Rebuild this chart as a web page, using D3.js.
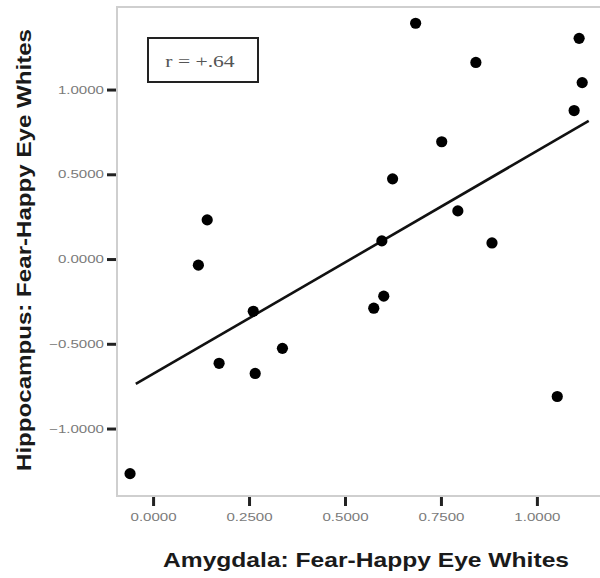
<!DOCTYPE html>
<html>
<head>
<meta charset="utf-8">
<script src="https://cdn.jsdelivr.net/npm/d3@7"></script>
<style>
  body { margin: 0; background: #fff; }
  svg { display: block; }
</style>
</head>
<body>
<div id="chart"></div>
<script>
// data
var amygdala = [-0.060, 0.118, 0.141, 0.172, 0.261, 0.266, 0.337, 0.575, 0.601, 0.596,
                0.624, 0.684, 0.752, 0.794, 0.841, 0.883, 1.053, 1.097, 1.110, 1.118];
var hippocampus = [-1.266, -0.036, 0.231, -0.615, -0.308, -0.675, -0.527, -0.290, -0.219, 0.107,
                   0.473, 1.391, 0.692, 0.284, 1.160, 0.095, -0.811, 0.876, 1.302, 1.041];
var fitX = [-0.045, 1.135];
var fitY = [-0.737, 0.815];
var xTicks = [0, 0.25, 0.5, 0.75, 1.0];
var yTicks = [-1.0, -0.5, 0, 0.5, 1.0];
var rLabel = "r = +.64";
var xTitle = "Amygdala: Fear-Happy Eye Whites";
var yTitle = "Hippocampus: Fear-Happy Eye Whites";

var margin = {top: 7, right: 0, bottom: 82, left: 117},
    width = 601 - margin.left,
    height = 578 - margin.top - margin.bottom;

var x = d3.scaleLinear().domain([-0.094, 1.167]).range([0, width]);
var y = d3.scaleLinear().domain([-1.398, 1.487]).range([height, 0]);

var svg = d3.select("#chart").append("svg")
    .attr("width", 600)
    .attr("height", 578);

var g = svg.append("g")
    .attr("transform", "translate(" + margin.left + "," + margin.top + ")");

// frame
g.append("rect")
    .attr("width", width)
    .attr("height", height)
    .attr("fill", "none")
    .attr("stroke", "#cfcfcf")
    .attr("stroke-width", 2);

// stretch tick text a bit, the original looks wide
function widen(sel, k) {
  sel.each(function() {
    var len = this.getComputedTextLength();
    d3.select(this).attr("textLength", len * k).attr("lengthAdjust", "spacingAndGlyphs");
  });
}

// y axis
var yAxis = g.append("g")
    .attr("transform", "translate(-1,0)")
    .call(d3.axisLeft(y).tickValues(yTicks).tickSize(9).tickPadding(3).tickFormat(d3.format(".4f")));
yAxis.select(".domain").remove();
yAxis.selectAll("line").attr("stroke", "#222").attr("stroke-width", 3);
yAxis.selectAll("text")
    .style("font-family", "Arial, 'Liberation Sans', sans-serif")
    .style("font-size", "11px")
    .attr("fill", "#7a7a7a")
    .call(widen, 1.37);

// x axis
var xAxis = g.append("g")
    .attr("transform", "translate(0," + (height + 1) + ")")
    .call(d3.axisBottom(x).tickValues(xTicks).tickSize(9).tickPadding(7).tickFormat(d3.format(".4f")));
xAxis.select(".domain").remove();
xAxis.selectAll("line").attr("stroke", "#222").attr("stroke-width", 3);
xAxis.selectAll("text")
    .style("font-family", "Arial, 'Liberation Sans', sans-serif")
    .style("font-size", "11px")
    .attr("fill", "#7a7a7a")
    .call(widen, 1.37);

// fit line
var line = d3.line()
    .x(function(d) { return x(d[0]); })
    .y(function(d) { return y(d[1]); });

g.append("path")
    .datum(d3.zip(fitX, fitY))
    .attr("d", line)
    .attr("fill", "none")
    .attr("stroke", "#111")
    .attr("stroke-width", 2.6);

// points
g.selectAll(".dot")
    .data(d3.zip(amygdala, hippocampus))
  .enter().append("circle")
    .attr("class", "dot")
    .attr("cx", function(d) { return x(d[0]); })
    .attr("cy", function(d) { return y(d[1]); })
    .attr("r", 5.6)
    .attr("fill", "#000");

// r box
svg.append("rect")
    .attr("x", 148)
    .attr("y", 38)
    .attr("width", 110)
    .attr("height", 44)
    .attr("fill", "#fff")
    .attr("stroke", "#222")
    .attr("stroke-width", 2);

svg.append("text")
    .attr("x", 200)
    .attr("y", 67)
    .attr("text-anchor", "middle")
    .style("font-family", "'Liberation Serif', 'Times New Roman', serif")
    .style("font-size", "16px")
    .attr("fill", "#555")
    .text(rLabel)
    .call(widen, 1.35);

// axis titles
svg.append("text")
    .attr("x", 366)
    .attr("y", 567)
    .attr("text-anchor", "middle")
    .style("font-family", "Arial, 'Liberation Sans', sans-serif")
    .style("font-size", "21px")
    .style("font-weight", "bold")
    .attr("fill", "#1a1a1a")
    .attr("textLength", 406)
    .attr("lengthAdjust", "spacingAndGlyphs")
    .text(xTitle);

svg.append("text")
    .attr("transform", "translate(31,250) rotate(-90)")
    .attr("text-anchor", "middle")
    .style("font-family", "Arial, 'Liberation Sans', sans-serif")
    .style("font-size", "21px")
    .style("font-weight", "bold")
    .attr("fill", "#1a1a1a")
    .attr("textLength", 442)
    .attr("lengthAdjust", "spacingAndGlyphs")
    .text(yTitle);
</script>
</body>
</html>
